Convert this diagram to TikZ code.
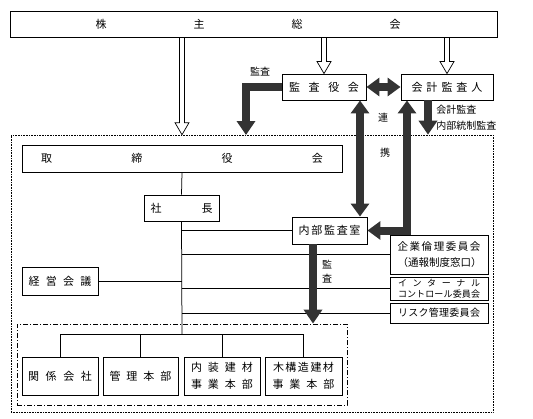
\documentclass[tikz,border=0pt]{standalone}
\usepackage{fontspec}
\setmainfont{Noto Sans CJK JP}
\usetikzlibrary{arrows.meta,calc}
\newcommand{\spaced}[2]{\makebox[#1][s]{#2}}
\tikzset{every picture/.style={line width=0.75pt}}

\begin{document}
\begin{tikzpicture}[x=1pt,y=1pt,yscale=-1,
  orgbox/.style={draw,line width=0.9pt,inner sep=0pt,align=center,font=\fontsize{11}{13}\selectfont},
  hollow/.style={line width=0.7pt,to path={($(\tikztostart)+(-2.5,0)$) -- ($(\tikztotarget)+(-2.5,-12)$)
    -- ($(\tikztotarget)+(-7,-12)$) -- (\tikztotarget) -- ($(\tikztotarget)+(7,-12)$)
    -- ($(\tikztotarget)+(2.5,-12)$) -- ($(\tikztostart)+(2.5,0)$)}},
  fat/.style={line width=8pt,draw=black!80,-{Triangle[width=18pt,length=14pt]}},
  fatboth/.style={line width=8pt,draw=black!80,{Triangle[width=18pt,length=13pt]}-{Triangle[width=18pt,length=13pt]}},
  lbl/.style={inner sep=0pt,align=left,font=\fontsize{10}{16}\selectfont}]
\useasboundingbox (0,0) rectangle (533,418);

%Frames
\node[draw,densely dotted,line width=0.6pt,minimum width=482pt,minimum height=277pt] (frame) at (252,273.5) {};
\node[draw,dash pattern=on 5pt off 2pt on 1pt off 2pt,line width=0.8pt,minimum width=330pt,minimum height=81pt] (group) at (182,364.5) {};

%Boxes
\node[orgbox,minimum width=487pt,minimum height=26pt] (kabu) at (254,24)
  {\spaced{305pt}{株\hfill 主\hfill 総\hfill 会}\hspace{12pt}};
\node[orgbox,minimum width=84pt,minimum height=26pt] (kansa) at (324,87)
  {\spaced{70pt}{監\hfill 査\hfill 役\hfill 会}};
\node[orgbox,minimum width=92pt,minimum height=26pt] (kaikei) at (447,87)
  {\spaced{71pt}{会\hfill 計\hfill 監\hfill 査\hfill 人}};
\node[orgbox,minimum width=320pt,minimum height=27pt] (torishimari) at (182,158.5)
  {\spaced{282pt}{取\hfill 締\hfill 役\hfill 会}};
\node[orgbox,minimum width=75pt,minimum height=26pt] (shacho) at (181.5,208)
  {\spaced{62pt}{社\hfill 長}};
\node[orgbox,minimum width=75pt,minimum height=27pt] (naibu) at (329.5,230.5)
  {\spaced{62pt}{内\hfill 部\hfill 監\hfill 査\hfill 室}};
\node[orgbox,minimum width=98pt,minimum height=39pt,font=\fontsize{10.5}{16}\selectfont] (rinri) at (439,254.5)
  {\spaced{83pt}{企\hfill 業\hfill 倫\hfill 理\hfill 委\hfill 員\hfill 会}\\
   \spaced{83pt}{（\hfill 通\hfill 報\hfill 制\hfill 度\hfill 窓\hfill 口\hfill ）}};
\node[orgbox,minimum width=98pt,minimum height=23pt,font=\fontsize{9}{10.5}\selectfont] (internal) at (439,288.5)
  {\spaced{82pt}{イ\hfill ン\hfill タ\hfill ー\hfill ナ\hfill ル}\\
   \spaced{82pt}{コ\hfill ン\hfill ト\hfill ロ\hfill ー\hfill ル\hfill 委\hfill 員\hfill 会}};
\node[orgbox,minimum width=98pt,minimum height=20pt,font=\fontsize{10}{12}\selectfont] (risk) at (439,313)
  {\spaced{82pt}{リ\hfill ス\hfill ク\hfill 管\hfill 理\hfill 委\hfill 員\hfill 会}};
\node[orgbox,minimum width=76pt,minimum height=28pt] (keiei) at (60,281)
  {\spaced{63pt}{経\hfill 営\hfill 会\hfill 議}};
\node[orgbox,minimum width=76pt,minimum height=38pt] (kankei) at (60,376)
  {\spaced{64pt}{関\hfill 係\hfill 会\hfill 社}};
\node[orgbox,minimum width=75pt,minimum height=38pt] (kanri) at (140.5,376)
  {\spaced{62pt}{管\hfill 理\hfill 本\hfill 部}};
\node[orgbox,minimum width=76pt,minimum height=38pt,font=\fontsize{11}{17}\selectfont] (naiso) at (222,376)
  {\spaced{62pt}{内\hfill 装\hfill 建\hfill 材}\\ \spaced{62pt}{事\hfill 業\hfill 本\hfill 部}};
\node[orgbox,minimum width=77pt,minimum height=38pt,font=\fontsize{11}{17}\selectfont] (mokko) at (303.5,376)
  {\spaced{61pt}{木\hfill 構\hfill 造\hfill 建\hfill 材}\\ \spaced{62pt}{事\hfill 業\hfill 本\hfill 部}};

% Text Node
\node[lbl] (lkansa) at (260,72) {監査};
\node[lbl] (lren) at (383,118) {連};
\node[lbl] (lkei) at (385,153) {携};
\node[lbl,anchor=west] (lkaikei) at (436,118) {会計監査\\内部統制監査};
\node[lbl,align=center,font=\fontsize{10}{14}\selectfont] (lnaibu) at (327,272) {監\\査};

\coordinate (bus) at (182,334);
\coordinate (kansaTip) at (246,135);

%Hollow arrows
\draw[hollow] (kabu.south -| torishimari.north) to (frame.north -| torishimari.north);
\draw[hollow] (kabu.south -| kansa.north) to (kansa.north);
\draw[hollow] (kabu.south -| kaikei.north) to (kaikei.north);

%Straight Lines
\draw (torishimari.south) -- (shacho.north);
\draw (shacho.south) -- (bus);
\draw (naibu.west -| bus) -- (naibu.west);
\draw (rinri.west -| bus) -- (rinri.west);
\draw (internal.west -| bus) -- (internal.west);
\draw (risk.west -| bus) -- (risk.west);
\draw (keiei.east) -- (keiei.east -| bus);
\draw (bus -| kankei.north) -- (bus -| mokko.north);
\foreach \n in {kankei,kanri,naiso,mokko}
  \draw (bus -| \n.north) -- (\n.north);

%Thick arrows
\draw[fat] (kansa.west) -| (kansaTip);
\draw[fatboth] (kansa.east) -- (kaikei.west);
\draw[fatboth] (kansa.south -| 360,0) -- (naibu.north -| 360,0);
\draw[fatboth] (kaikei.south -| 407,0) |- (naibu.east);
\draw[fat] (kaikei.south -| 428,0) -- (frame.north -| 428,0);
\draw[fat] (naibu.south -| 313,0) -- (group.north -| 313,0);

\end{tikzpicture}
\end{document}
